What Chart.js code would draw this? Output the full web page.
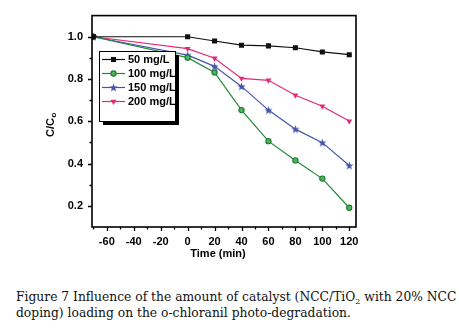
<!DOCTYPE html>
<html>
<head>
<meta charset="utf-8">
<script src="https://cdn.jsdelivr.net/npm/chart.js@4.4.0/dist/chart.umd.min.js"></script>
<style>
body { margin: 0; background: #fff; }
#wrap { position: relative; width: 459px; height: 329px; }
#c { position: absolute; left: 0; top: 0; }
#caption { position: absolute; left: 16px; top: 290px; font-family: "DejaVu Serif"; font-size: 12.3px;
  line-height: 15.5px; color: #111; white-space: nowrap; }
#caption sub { font-size: 8px; line-height: 0; }
</style>
</head>
<body>
<div id="wrap">
<canvas id="c" width="459" height="265"></canvas>
<div id="caption">Figure 7 Influence of the amount of catalyst (NCC/TiO<sub>2</sub> with 20% NCC<br>doping) loading on the o-chloranil photo-degradation.</div>
</div>
<script>
// time (min), dark period starts at -70
var times = [-70, 0, 20, 40, 60, 80, 100, 120];
var c50  = [1.0, 1.0, 0.980, 0.960, 0.957, 0.948, 0.928, 0.915];
var c100 = [1.0, 0.901, 0.831, 0.653, 0.506, 0.415, 0.329, 0.191];
var c150 = [1.0, 0.913, 0.860, 0.765, 0.653, 0.563, 0.499, 0.391];
var c200 = [1.0, 0.944, 0.898, 0.803, 0.794, 0.723, 0.671, 0.601];
var seriesNames = ['50 mg/L', '100 mg/L', '150 mg/L', '200 mg/L'];

var xTicks = [-60, -40, -20, 0, 20, 40, 60, 80, 100, 120];
var xMinor = [-70, -50, -30, -10, 10, 30, 50, 70, 90, 110];
var yTicks = [0.2, 0.4, 0.6, 0.8, 1.0];
var yMinor = [0.3, 0.5, 0.7, 0.9];

var FONT = '"Liberation Sans", Arial, sans-serif';

// filled 5 point star marker
function starImg(color) {
    var cv = document.createElement('canvas');
    cv.width = 9; cv.height = 9;
    var g = cv.getContext('2d');
    g.beginPath();
    for (var i = 0; i < 10; i++) {
        var r = (i % 2 == 0) ? 4.3 : 1.8;
        var a = -Math.PI / 2 + i * Math.PI / 5;
        var px = 4.5 + r * Math.cos(a), py = 4.9 + r * Math.sin(a);
        if (i == 0) g.moveTo(px, py); else g.lineTo(px, py);
    }
    g.closePath();
    g.fillStyle = color;
    g.fill();
    return cv;
}

function pts(vals) {
    return vals.map(function(v, i) { return {x: times[i], y: v}; });
}

var datasets = [{
    label: seriesNames[0],
    data: pts(c50),
    borderColor: '#111111',
    backgroundColor: '#111111',
    pointStyle: 'rect',
    pointRadius: 3.6,
    pointBorderWidth: 0
}, {
    label: seriesNames[1],
    data: pts(c100),
    borderColor: '#23883a',
    backgroundColor: '#52b25c',
    pointBorderColor: '#1c7a30',
    pointStyle: 'circle',
    pointRadius: 2.6,
    pointBorderWidth: 1.1
}, {
    label: seriesNames[2],
    data: pts(c150),
    borderColor: '#4556a8',
    backgroundColor: '#4556a8',
    pointStyle: starImg('#4556a8'),
    pointRadius: 4
}, {
    label: seriesNames[3],
    data: pts(c200),
    borderColor: '#e4287a',
    backgroundColor: '#e4287a',
    pointStyle: 'triangle',
    rotation: 180,
    pointRadius: 3.4,
    pointBorderWidth: 0
}];
datasets.forEach(function(d) {
    d.borderWidth = 1.2;
    d.tension = 0;
    d.fill = false;
});

var framePlugin = {
    id: 'frame',
    afterDraw: function(chart) {
        var ctx = chart.ctx, a = chart.chartArea;
        var xs = chart.scales.x, ys = chart.scales.y;
        ctx.save();
        ctx.strokeStyle = '#000';
        ctx.lineWidth = 1.6;
        ctx.strokeRect(a.left, a.top, a.right - a.left, a.bottom - a.top);

        // tick marks, outside
        ctx.lineWidth = 1.3;
        ctx.beginPath();
        xTicks.forEach(function(v) {
            var px = Math.round(xs.getPixelForValue(v)) + 0.5;
            ctx.moveTo(px, a.bottom); ctx.lineTo(px, a.bottom + 4);
        });
        xMinor.forEach(function(v) {
            var px = Math.round(xs.getPixelForValue(v)) + 0.5;
            ctx.moveTo(px, a.bottom); ctx.lineTo(px, a.bottom + 2.5);
        });
        yTicks.forEach(function(v) {
            var py = Math.round(ys.getPixelForValue(v)) + 0.5;
            ctx.moveTo(a.left, py); ctx.lineTo(a.left - 4, py);
        });
        yMinor.forEach(function(v) {
            var py = Math.round(ys.getPixelForValue(v)) + 0.5;
            ctx.moveTo(a.left, py); ctx.lineTo(a.left - 2.5, py);
        });
        ctx.stroke();

        // axis titles
        ctx.fillStyle = '#000';
        ctx.font = 'bold 11px ' + FONT;
        ctx.textAlign = 'center';
        ctx.textBaseline = 'middle';
        ctx.fillText('Time (min)', 218, 254);

        ctx.save();
        ctx.translate(51, 125);
        ctx.rotate(-Math.PI / 2);
        var w1 = ctx.measureText('C/C').width;
        ctx.font = 'bold 8px ' + FONT;
        var w2 = ctx.measureText('o').width;
        var x0 = -(w1 + w2) / 2;
        ctx.textAlign = 'left';
        ctx.font = 'bold 11px ' + FONT;
        ctx.fillText('C/C', x0, 0);
        ctx.font = 'bold 8px ' + FONT;
        ctx.fillText('o', x0 + w1 + 0.5, 3);
        ctx.restore();

        // legend box with drop shadow
        var bx = 99, by = 51, bw = 76, bh = 70;
        ctx.fillStyle = '#000';
        ctx.fillRect(bx + 4, by + 4, bw, bh);
        ctx.fillStyle = '#fff';
        ctx.fillRect(bx, by, bw, bh);
        ctx.lineWidth = 1;
        ctx.strokeRect(bx + 0.5, by + 0.5, bw, bh);

        chart.data.datasets.forEach(function(d, i) {
            var ry = 59.5 + i * 14;
            ctx.strokeStyle = d.borderColor;
            ctx.lineWidth = 1.2;
            ctx.beginPath();
            ctx.moveTo(102, ry); ctx.lineTo(125, ry);
            ctx.stroke();
            ctx.save();
            ctx.fillStyle = d.backgroundColor;
            ctx.strokeStyle = d.pointBorderColor || d.borderColor;
            ctx.lineWidth = d.pointBorderWidth || 0;
            Chart.helpers.drawPoint(ctx, {
                pointStyle: d.pointStyle,
                radius: d.pointRadius,
                rotation: d.rotation || 0,
                borderWidth: d.pointBorderWidth || 0
            }, 113.5, ry);
            ctx.restore();
            ctx.fillStyle = '#000';
            ctx.font = 'bold 11px ' + FONT;
            ctx.textAlign = 'left';
            ctx.textBaseline = 'middle';
            ctx.fillText(d.label, 128, ry + 0.5);
        });
        ctx.restore();
    }
};

var chart = new Chart(document.getElementById('c').getContext('2d'), {
    type: 'line',
    data: { datasets: datasets },
    options: {
        responsive: false,
        animation: false,
        layout: { padding: { left: 0, top: 8, right: 103, bottom: 0 } },
        plugins: { legend: { display: false }, tooltip: { enabled: false } },
        scales: {
            x: {
                type: 'linear',
                min: -71,
                max: 125,
                afterBuildTicks: function(s) { s.ticks = xTicks.map(function(v) { return {value: v}; }); },
                afterFit: function(s) { s.height = 38; },
                grid: { display: false, drawTicks: false },
                border: { display: false },
                ticks: { color: '#000', font: { family: FONT, size: 11, weight: 'bold' }, padding: 8, maxRotation: 0 }
            },
            y: {
                min: 0.1,
                max: 1.1,
                afterBuildTicks: function(s) { s.ticks = yTicks.map(function(v) { return {value: v}; }); },
                afterFit: function(s) { s.width = 92; },
                grid: { display: false, drawTicks: false },
                border: { display: false },
                ticks: {
                    color: '#000', font: { family: FONT, size: 11, weight: 'bold' }, padding: 9,
                    callback: function(v) { return v.toFixed(1); }
                }
            }
        }
    },
    plugins: [framePlugin]
});
</script>
</body>
</html>
